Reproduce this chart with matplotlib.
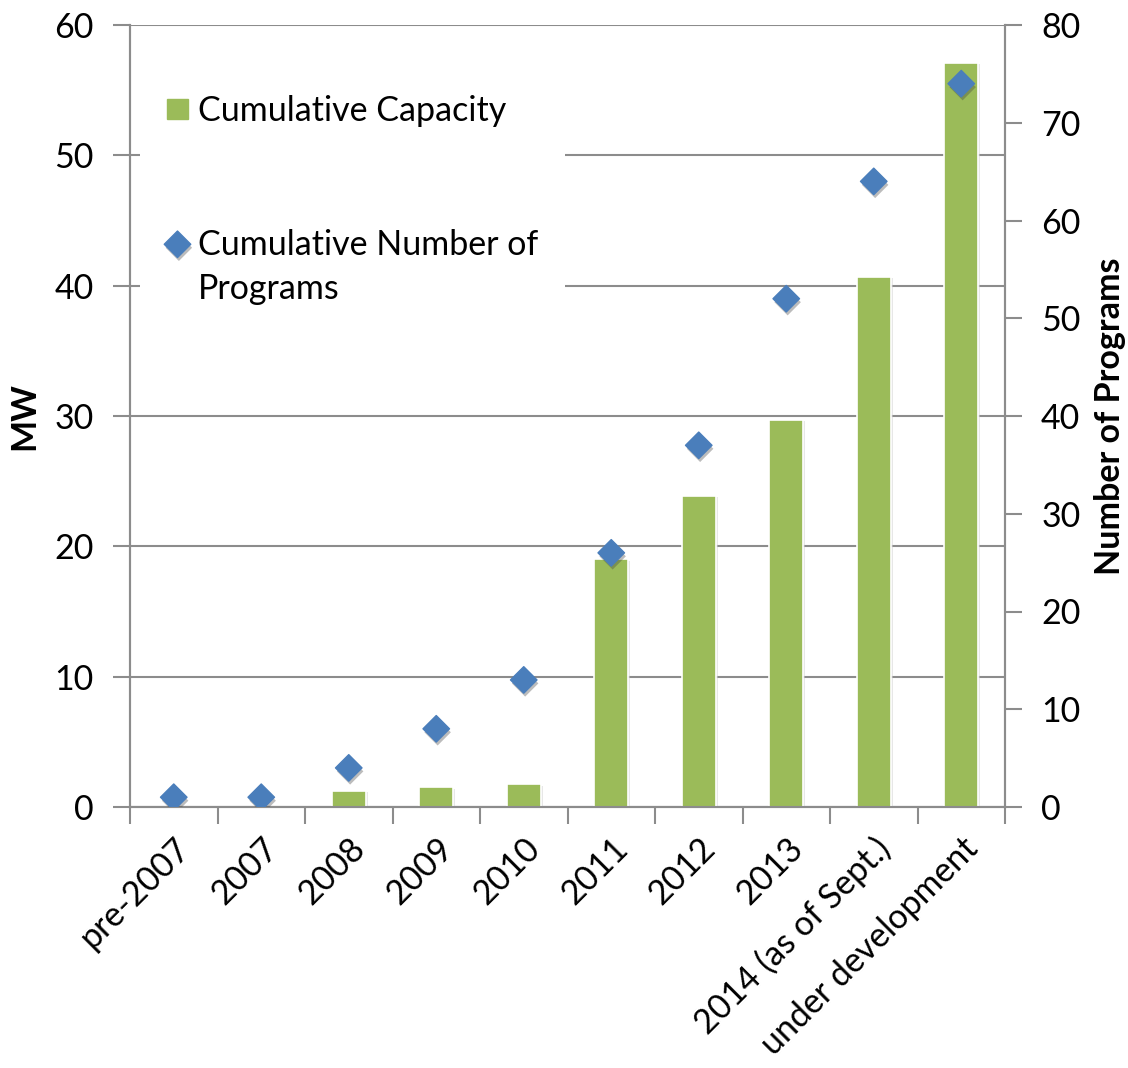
import matplotlib.pyplot as plt
from matplotlib.patches import Patch
import matplotlib.patheffects as pe

plt.rcParams['font.family'] = ['Lato', 'DejaVu Sans']

# data
categories = ['pre-2007', '2007', '2008', '2009', '2010', '2011', '2012', '2013',
              '2014 (as of Sept.)', 'under development']
capacity_mw = [0, 0, 1.25, 1.5, 1.75, 19.0, 23.9, 29.7, 40.7, 57.1]
num_programs = [1, 1, 4, 8, 13, 26, 37, 52, 64, 74]

green = '#9BBB59'
blue = '#4A7EBB'
gray = '#8C8C8C'
fs = 24.5

fig = plt.figure(figsize=(11.28, 10.68), dpi=100)
ax = fig.add_axes([130/1128, 1 - 807/1068, 875/1128, 782/1068])
ax2 = ax.twinx()

x = list(range(len(categories)))
ax.bar(x, capacity_mw, width=0.39, color=green, edgecolor='white', linewidth=1.2, zorder=3,
       path_effects=[pe.SimplePatchShadow(offset=(1.5, -1), shadow_rgbFace='#d0d0d0', alpha=0.5),
                     pe.Normal()])
ax2.scatter(x, num_programs, marker='D', s=182, color=blue, zorder=4,
            path_effects=[pe.SimplePatchShadow(offset=(1, -2.5), shadow_rgbFace='#404040', alpha=0.35),
                          pe.Normal()])

ax.set_xlim(-0.5, len(categories) - 0.5)
ax.set_ylim(0, 60)
ax2.set_ylim(0, 80)
ax.set_yticks(range(0, 61, 10))
ax2.set_yticks(range(0, 81, 10))

ax.yaxis.grid(True, color=gray, linewidth=1.5, zorder=0)
ax.set_axisbelow(True)

for a in (ax, ax2):
    a.spines['top'].set_visible(False)
    for s in ('left', 'right', 'bottom'):
        a.spines[s].set_color(gray)
        a.spines[s].set_linewidth(1.5)

ax.tick_params(axis='y', length=12, width=1.5, color=gray, labelsize=fs, pad=14)
ax2.tick_params(axis='y', length=12, width=1.5, color=gray, labelsize=fs, pad=14)

ax.set_xticks(x)
ax.set_xticklabels(categories, rotation=45, ha='right', rotation_mode='anchor', fontsize=fs)
ax.set_xticks([i - 0.5 for i in range(len(categories) + 1)], minor=True)
ax.tick_params(axis='x', which='major', length=0, pad=18)
ax.tick_params(axis='x', which='minor', length=12, width=1.5, color=gray)

ax.set_ylabel('MW', fontsize=fs, fontweight='bold', labelpad=10)
ax2.set_ylabel('Number of Programs', fontsize=fs, fontweight='bold', labelpad=10)

handles = [Patch(facecolor=green, edgecolor=green), ax2.collections[0]]
labels = ['Cumulative Capacity', 'Cumulative Number of\nPrograms']
leg = ax2.legend(handles, labels, loc='upper left', bbox_to_anchor=(0.0115, 0.945), fontsize=fs,
                 frameon=True, facecolor='white', edgecolor='white', framealpha=1,
                 labelspacing=3.0, handlelength=0.6, handleheight=0.55, handletextpad=0.3,
                 borderpad=0.8, borderaxespad=0, scatteryoffsets=[1.75])
leg.get_frame().set_linewidth(0)
for t in leg.get_texts():
    t.set_linespacing(1.45)

fig.savefig('out.png', dpi=100)
